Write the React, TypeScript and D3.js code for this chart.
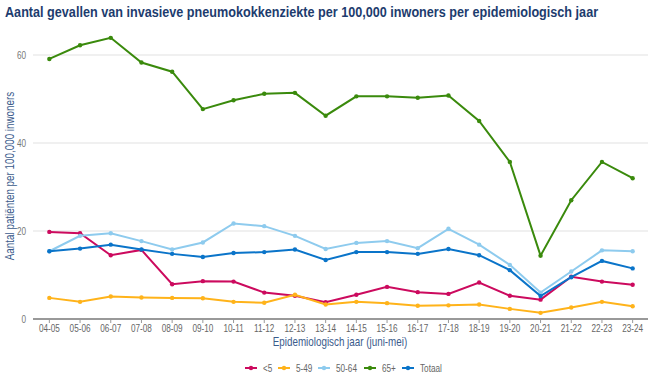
import * as d3 from "d3";

// Epidemiologische jaren (juni-mei)
const years = [
  "04-05", "05-06", "06-07", "07-08", "08-09", "09-10", "10-11", "11-12", "12-13", "13-14",
  "14-15", "15-16", "16-17", "17-18", "18-19", "19-20", "20-21", "21-22", "22-23", "23-24",
];

// Cases per 100,000 per age group
const under5 = [19.8, 19.5, 14.5, 15.7, 7.9, 8.6, 8.5, 6.0, 5.3, 3.8, 5.5, 7.3, 6.1, 5.7, 8.3, 5.3, 4.4, 9.6, 8.5, 7.8];
const age5to49 = [4.8, 3.9, 5.1, 4.9, 4.8, 4.7, 3.9, 3.7, 5.5, 3.3, 3.9, 3.6, 3.0, 3.1, 3.3, 2.3, 1.4, 2.6, 3.9, 2.9];
const age50to64 = [15.4, 18.9, 19.5, 17.7, 15.8, 17.4, 21.7, 21.1, 18.9, 15.9, 17.3, 17.7, 16.1, 20.5, 16.9, 12.3, 6.0, 10.8, 15.6, 15.4];
const age65plus = [59.1, 62.2, 63.9, 58.3, 56.2, 47.7, 49.7, 51.2, 51.4, 46.2, 50.6, 50.6, 50.3, 50.8, 45.0, 35.7, 14.4, 27.0, 35.7, 32.0];
const totaal = [15.4, 16.0, 16.9, 15.8, 14.8, 14.1, 15.0, 15.2, 15.8, 13.4, 15.2, 15.2, 14.8, 15.9, 14.5, 11.1, 5.2, 9.5, 13.2, 11.5];

const yTicks = [0, 20, 40, 60];

const series = [
  { name: "<5", values: under5, color: "#cc0a5e" },
  { name: "5-49", values: age5to49, color: "#ffb31a" },
  { name: "50-64", values: age50to64, color: "#8ecbee" },
  { name: "65+", values: age65plus, color: "#3a8a0c" },
  { name: "Totaal", values: totaal, color: "#0a74c9" },
];

const W = 654;
const H = 385;
const FONT = "'Liberation Sans', Arial, sans-serif";
const NARROW = 0.82; // the original font is condensed

export default function App() {
  const x = d3.scalePoint<string>().domain(years).range([34, 648]).padding(0.5);
  const y = d3.scaleLinear().domain([0, 65]).range([319, 33]);

  const line = d3
    .line<number>()
    .x((_, i) => x(years[i]) as number)
    .y((d) => y(d));

  // legend item offsets
  const legendX = [251, 284, 324, 370, 408];

  return (
    <svg
      width={W}
      height={H}
      style={{ position: "absolute", left: 0, top: 0, background: "#fff" }}
      fontFamily={FONT}
    >
      <g transform={`translate(5,17) scale(${NARROW * 0.995},1)`}>
        <text fontSize={15.5} fontWeight="bold" fill="#1d3c6e">
          Aantal gevallen van invasieve pneumokokkenziekte per 100,000 inwoners per epidemiologisch jaar
        </text>
      </g>

      {/* grid + y ticks */}
      {yTicks.map((t) => (
        <g key={t}>
          {t > 0 && (
            <line x1={33} x2={648} y1={y(t)} y2={y(t)} stroke="#ebebeb" strokeWidth={1.5} />
          )}
          <g transform={`translate(26,${y(t)}) scale(${NARROW},1)`}>
            <text dy="0.35em" textAnchor="end" fontSize={10} fill="#777">
              {t}
            </text>
          </g>
        </g>
      ))}

      {/* x axis */}
      <line x1={33} x2={648} y1={319} y2={319} stroke="#999" strokeWidth={2} />
      {years.map((yr) => (
        <g key={yr} transform={`translate(${x(yr)},319)`}>
          <line y1={0} y2={4} stroke="#999" />
          <g transform={`translate(0,12.5) scale(${NARROW},1)`}>
            <text textAnchor="middle" fontSize={10} fill="#666">
              {yr}
            </text>
          </g>
        </g>
      ))}

      <g transform={`translate(340,346) scale(${NARROW},1)`}>
        <text textAnchor="middle" fontSize={12} fill="#3b5b8c">
          Epidemiologisch jaar (juni-mei)
        </text>
      </g>
      <g transform={`translate(14,176) rotate(-90) scale(${NARROW},1)`}>
        <text textAnchor="middle" fontSize={12} fill="#3b5b8c">
          Aantal patiënten per 100,000 inwoners
        </text>
      </g>

      {/* lines */}
      {series.map((s) => (
        <g key={s.name}>
          <path d={line(s.values) ?? ""} fill="none" stroke={s.color} strokeWidth={2} />
          {s.values.map((v, i) => (
            <circle key={i} cx={x(years[i])} cy={y(v)} r={2.2} fill={s.color} />
          ))}
        </g>
      ))}

      {/* legend */}
      {series.map((s, i) => (
        <g key={s.name} transform={`translate(${legendX[i]},368)`}>
          <line x1={-6} x2={6} stroke={s.color} strokeWidth={2} />
          <circle r={2.2} fill={s.color} />
          <g transform={`translate(12,0) scale(${NARROW},1)`}>
            <text dy="0.35em" fontSize={10} fill="#666">
              {s.name}
            </text>
          </g>
        </g>
      ))}
    </svg>
  );
}
